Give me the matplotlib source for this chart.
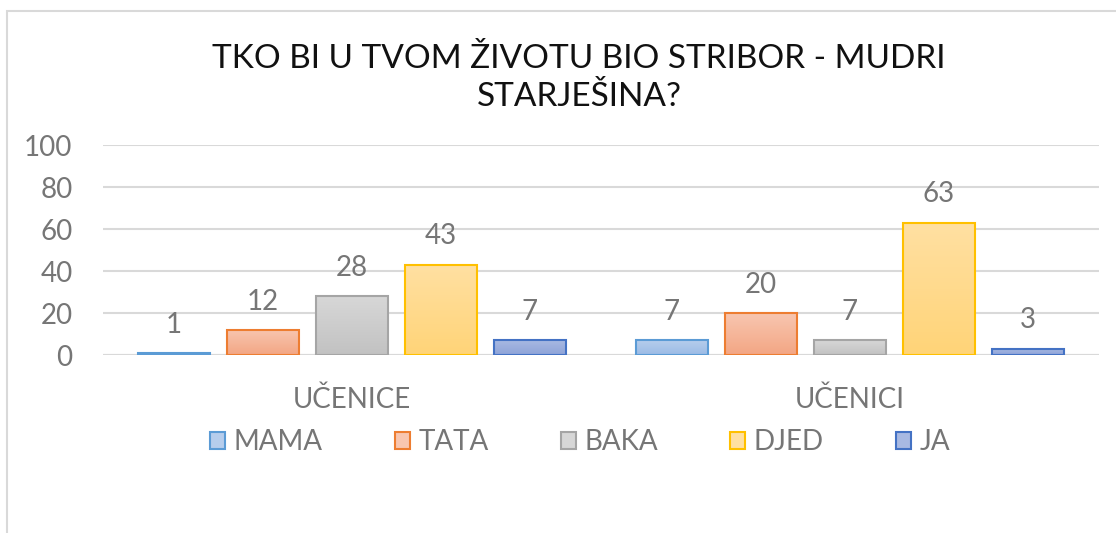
import matplotlib.pyplot as plt
import numpy as np
from matplotlib.patches import Rectangle, Patch
from matplotlib.colors import LinearSegmentedColormap

plt.rcParams['font.family'] = ['Lato', 'DejaVu Sans']

# Data
groups = ["UČENICE", "UČENICI"]
series = ["MAMA", "TATA", "BAKA", "DJED", "JA"]
values = {
    "MAMA": [1, 7],
    "TATA": [12, 20],
    "BAKA": [28, 7],
    "DJED": [43, 63],
    "JA": [7, 3],
}
title = "TKO BI U TVOM ŽIVOTU BIO STRIBOR - MUDRI\nSTARJEŠINA?"

# (top colour, bottom colour, edge colour)
colors = {
    "MAMA": ("#b6cdec", "#9bbbe5", "#5b9bd5"),
    "TATA": ("#f8c6b0", "#f3a684", "#ed7d31"),
    "BAKA": ("#d7d7d7", "#c2c2c2", "#a5a5a5"),
    "DJED": ("#ffe0a2", "#ffd478", "#ffc000"),
    "JA": ("#a8b9e2", "#8ea3d8", "#4472c4"),
}
text_gray = "#767676"

W, H = 1116, 533
fig = plt.figure(figsize=(W / 100, H / 100), dpi=100)
fig.patches.append(Rectangle((7 / W, -0.1), 1.2, (H - 11) / H + 0.1,
                             transform=fig.transFigure, fill=False,
                             edgecolor="#d9d9d9", linewidth=1.5))

ax = fig.add_axes([103 / W, 1 - 355 / H, (1099 - 103) / W, (355 - 145) / H])
ax.set_xlim(-0.5, 1.5)
ax.set_ylim(0, 100)

step = 89 / 498
width = 72 / 498
x = np.arange(len(groups))
grad = np.linspace(0, 1, 64).reshape(-1, 1)

for i, s in enumerate(series):
    top, bottom, edge = colors[s]
    pos = x + (i - 2) * step
    bars = ax.bar(pos, values[s], width, color=bottom, edgecolor=edge,
                  linewidth=1.5, zorder=3)
    cmap = LinearSegmentedColormap.from_list(s, [bottom, top])
    for b in bars:
        x0, y0 = b.get_x(), b.get_y()
        im = ax.imshow(grad, cmap=cmap, aspect="auto", origin="lower",
                       extent=[x0, x0 + b.get_width(), y0, y0 + b.get_height()],
                       zorder=3.5)
        im.set_clip_path(b)
        b.set_facecolor("none")
        b.set_zorder(4)
        ax.annotate(str(int(b.get_height())),
                    (x0 + b.get_width() / 2, b.get_height()),
                    xytext=(0, 11), textcoords="offset points",
                    ha="center", va="bottom", fontsize=20, color=text_gray)

ax.set_xlim(-0.5, 1.5)
ax.set_ylim(0, 100)
ax.set_yticks(range(0, 101, 20))
ax.set_xticks(x)
ax.set_xticklabels(groups)
ax.tick_params(length=0, labelsize=20, labelcolor=text_gray)
ax.tick_params(axis="y", pad=22)
ax.tick_params(axis="x", pad=23)
ax.grid(axis="y", color="#d9d9d9", linewidth=1.5, zorder=0)
ax.axhline(0, color="#d9d9d9", linewidth=1.5, zorder=1)
for sp in ax.spines.values():
    sp.set_visible(False)

fig.text(579 / W, 1 - 78 / H, title, ha="center", va="center",
         fontsize=24, color="#111111", linespacing=1.3)

handles = [Patch(facecolor=colors[s][0], edgecolor=colors[s][2], linewidth=1.5)
           for s in series]
fig.legend(handles, series, loc="center", bbox_to_anchor=(580 / W, 1 - 442 / H),
           ncol=5, frameon=False, fontsize=20, labelcolor=text_gray,
           handlelength=0.55, handleheight=0.55, handletextpad=0.3,
           columnspacing=2.6)

plt.savefig("out.png", dpi=100)
